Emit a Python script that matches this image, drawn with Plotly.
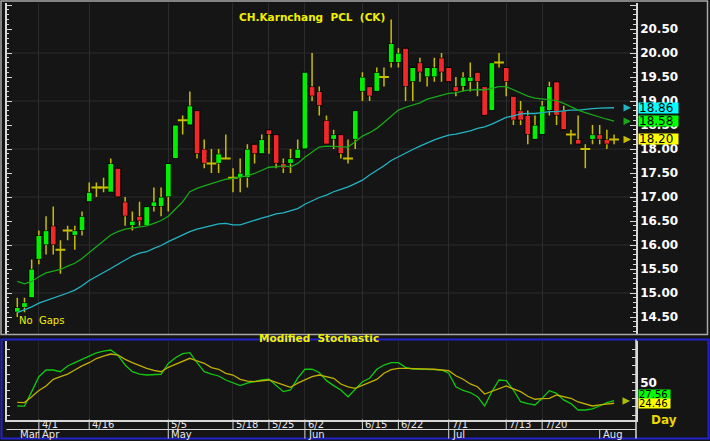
import plotly.graph_objects as go

# candle data, one entry per trading day
opens = [14.6, 14.7, 14.9, 15.7, 16.0, 16.4, 15.9, 16.3, 16.2, 16.3,
         16.9, 17.2, 17.2, 17.1, 17.6, 16.9, 16.4, 16.6, 16.4, 16.8,
         16.8, 17.0, 17.8, 18.6, 18.5, 18.8, 18.0, 17.7, 17.7, 17.8,
         17.4, 17.4, 17.4, 18.1, 17.9, 18.4, 18.3, 17.7, 17.7, 17.8,
         18.0, 19.3, 19.2, 18.6, 18.2, 18.3, 17.8, 18.2, 19.2, 19.3,
         19.2, 19.5, 19.8, 19.8, 20.1, 19.4, 19.8, 19.5, 19.5, 19.9,
         19.7, 19.3, 19.3, 19.4, 19.6, 19.3, 18.8, 19.8, 19.7, 19.1,
         18.8, 18.7, 18.2, 18.3, 18.8, 19.4, 18.8, 18.3, 18.2, 18.0,
         18.2, 18.3, 18.2, 18.2]
highs = [14.9, 14.9, 15.7, 16.3, 16.6, 16.8, 16.1, 16.4, 16.4, 16.7,
         17.3, 17.3, 17.4, 17.8, 17.6, 17.0, 16.7, 16.9, 16.8, 17.2,
         17.2, 17.7, 18.5, 18.7, 19.2, 18.8, 18.2, 18.0, 18.0, 18.3,
         17.6, 17.8, 18.1, 18.1, 18.3, 18.4, 18.3, 17.8, 18.0, 18.2,
         19.6, 20.0, 19.3, 18.7, 18.4, 18.3, 18.2, 18.8, 19.6, 19.3,
         19.7, 19.7, 20.7, 20.1, 20.1, 19.7, 19.9, 19.7, 19.9, 20.0,
         19.7, 19.5, 19.6, 19.8, 19.6, 19.3, 19.8, 20.0, 19.7, 19.1,
         19.0, 18.8, 18.7, 19.0, 19.4, 19.4, 18.9, 18.4, 18.7, 18.1,
         18.5, 18.5, 18.4, 18.3]
lows = [14.5, 14.6, 14.9, 15.6, 15.8, 15.8, 15.4, 16.1, 15.9, 16.2,
        16.9, 17.0, 17.1, 17.1, 17.0, 16.4, 16.3, 16.4, 16.4, 16.7,
        16.6, 16.7, 17.8, 18.3, 18.5, 17.8, 17.6, 17.5, 17.5, 17.8,
        17.1, 17.1, 17.2, 17.7, 17.9, 17.9, 17.6, 17.5, 17.5, 17.8,
        18.0, 19.0, 18.7, 18.1, 18.0, 17.8, 17.7, 18.0, 19.0, 19.0,
        19.2, 19.3, 19.7, 19.7, 19.0, 19.0, 19.4, 19.3, 19.4, 19.4,
        19.4, 19.1, 19.2, 19.2, 19.1, 18.7, 18.8, 19.7, 19.1, 18.5,
        18.5, 18.1, 18.2, 18.3, 18.7, 18.5, 18.4, 18.1, 18.1, 17.6,
        18.1, 18.1, 18.0, 18.1]
closes = [14.7, 14.8, 15.5, 16.2, 16.3, 16.0, 15.9, 16.3, 16.3, 16.6,
          17.1, 17.2, 17.2, 17.7, 17.0, 16.6, 16.5, 16.5, 16.8, 16.9,
          17.0, 17.7, 18.5, 18.6, 18.9, 17.9, 17.7, 17.7, 17.9, 17.8,
          17.4, 17.5, 18.0, 17.9, 18.2, 18.3, 17.7, 17.6, 17.8, 18.0,
          19.6, 19.1, 18.9, 18.1, 18.3, 17.9, 17.8, 18.8, 19.5, 19.1,
          19.6, 19.5, 20.2, 20.0, 19.3, 19.7, 19.6, 19.7, 19.7, 19.6,
          19.4, 19.2, 19.5, 19.5, 19.4, 18.7, 19.8, 19.8, 19.4, 18.6,
          18.6, 18.3, 18.5, 18.9, 19.3, 18.7, 18.4, 18.3, 18.1, 18.0,
          18.3, 18.2, 18.1, 18.2]

# moving averages
ma_fast = [15.24, 15.19, 15.24, 15.34, 15.42, 15.46, 15.49, 15.56, 15.62, 15.72,
           15.84, 15.96, 16.07, 16.21, 16.28, 16.33, 16.35, 16.37, 16.40, 16.45,
           16.51, 16.60, 16.75, 16.90, 17.11, 17.18, 17.23, 17.28, 17.33, 17.37,
           17.39, 17.41, 17.44, 17.49, 17.55, 17.62, 17.63, 17.65, 17.63, 17.70,
           17.83, 17.94, 18.04, 18.06, 18.05, 18.04, 18.04, 18.15, 18.27, 18.34,
           18.43, 18.55, 18.69, 18.81, 18.87, 18.92, 18.96, 19.04, 19.08, 19.12,
           19.16, 19.17, 19.21, 19.23, 19.24, 19.23, 19.26, 19.30, 19.30, 19.23,
           19.17, 19.10, 19.06, 19.04, 19.02, 19.01, 18.95, 18.88, 18.81, 18.76,
           18.71, 18.66, 18.62, 18.58]
ma_slow = [14.59, 14.65, 14.71, 14.79, 14.84, 14.89, 14.94, 15.00, 15.06, 15.15,
           15.26, 15.34, 15.42, 15.51, 15.60, 15.69, 15.77, 15.83, 15.86, 15.93,
           15.99, 16.07, 16.14, 16.21, 16.28, 16.33, 16.37, 16.40, 16.44, 16.45,
           16.42, 16.42, 16.47, 16.52, 16.56, 16.60, 16.65, 16.67, 16.71, 16.76,
           16.85, 16.92, 16.99, 17.04, 17.11, 17.16, 17.21, 17.28, 17.35, 17.46,
           17.55, 17.65, 17.76, 17.84, 17.91, 17.99, 18.06, 18.13, 18.19, 18.24,
           18.29, 18.31, 18.34, 18.38, 18.43, 18.46, 18.52, 18.59, 18.66, 18.69,
           18.73, 18.74, 18.74, 18.76, 18.78, 18.78, 18.80, 18.81, 18.81, 18.83,
           18.84, 18.85, 18.85, 18.86]

# modified stochastic
stoch_k = [21.1, 21.0, 38.6, 56.8, 65.0, 65.0, 62.9, 69.9, 73.9, 78.0,
           82.0, 86.0, 88.0, 89.4, 83.0, 71.0, 63.0, 60.0, 58.9, 59.8,
           59.8, 73.0, 80.0, 85.0, 86.1, 74.0, 63.0, 60.0, 57.7, 52.8,
           49.0, 45.9, 49.0, 51.0, 52.8, 53.7, 46.7, 38.6, 40.6, 55.0,
           65.9, 65.9, 62.0, 52.0, 46.0, 40.6, 32.4, 42.0, 50.7, 54.9,
           65.9, 71.1, 73.9, 73.9, 68.3, 66.0, 66.0, 65.9, 65.5, 65.0,
           61.0, 44.6, 40.0, 37.5, 32.4, 21.1, 38.6, 52.8, 52.0, 40.6,
           26.3, 24.0, 22.3, 30.5, 39.8, 36.6, 28.5, 24.0, 16.2, 16.2,
           17.5, 21.1, 25.1, 27.56]
stoch_d = [25.6, 25.2, 32.4, 40.0, 45.5, 53.7, 57.0, 60.0, 65.0, 70.0,
           73.9, 79.0, 82.0, 84.5, 83.3, 78.0, 73.9, 70.0, 67.1, 64.5,
           62.9, 68.3, 72.0, 75.1, 79.3, 76.0, 73.2, 68.0, 65.9, 61.0,
           58.9, 53.7, 51.5, 50.7, 52.0, 52.8, 50.0, 46.7, 43.9, 49.0,
           52.8, 57.0, 58.9, 56.5, 54.9, 47.9, 44.5, 42.7, 46.7, 50.0,
           53.5, 61.0, 65.5, 67.1, 67.1, 67.0, 66.2, 65.9, 65.9, 65.0,
           64.1, 58.0, 53.7, 48.0, 44.6, 35.7, 39.0, 41.5, 45.5, 42.0,
           38.6, 33.0, 29.3, 30.0, 30.5, 34.5, 32.5, 30.5, 26.0, 23.5,
           21.1, 22.5, 23.5, 24.46]

# date axis (positions are candle numbers)
day_ticks = [3, 10, 21, 30, 35, 40, 48, 53, 60, 68, 73]
day_labels = ["4/1", "4/16", "5/5", "5/18", "5/25", "6/2", "6/15", "6/22", "7/1", "7/13", "7/20"]
month_ticks = [0, 3, 21, 40, 60, 81]
month_labels = ["Mar", "Apr", "May", "Jun", "Jul", "Aug"]

grid_levels = [15, 16, 17, 18, 19, 20]
stoch_levels = [10, 20, 30, 40, 50, 60, 70, 80, 90, 100]

W, H = 710, 441
BG = "#151515"
AXC = "#d8d8d8"
FONT = "DejaVu Sans"


def px(x):
    return x / W


def py(y):
    return 1 - y / H


idx = list(range(len(closes)))
x_range = [-1.5, 86.05]
p_range = [14.146, 21.042]
s_range = [4.6, 100.4]

up_col, dn_col, wick_col = "#00f000", "#f02828", "#c8be00"

fig = go.Figure()

# candle bodies, wicks split so they sit behind the bodies
body_x, body_h, body_b, body_c = [], [], [], []
doji_x, doji_y = [], []
wx, wy = [], []
for i, o, h, l, c in zip(idx, opens, highs, lows, closes):
    if o == c:
        doji_x.append(i)
        doji_y.append(c)
        wx += [i, i, None]
        wy += [l, h, None]
        continue
    top, bot = max(o, c), min(o, c)
    body_x.append(i)
    body_b.append(bot)
    body_h.append(top - bot)
    body_c.append(up_col if c > o else dn_col)
    if h > top:
        wx += [i, i, None]
        wy += [top, h, None]
    if l < bot:
        wx += [i, i, None]
        wy += [l, bot, None]

fig.add_trace(go.Bar(x=body_x, y=body_h, base=body_b, width=0.8,
                     marker=dict(color=body_c, line=dict(color="#000000", width=1)),
                     xaxis="x", yaxis="y"))
fig.add_trace(go.Scatter(x=wx, y=wy, mode="lines", line=dict(color=wick_col, width=1.5),
                         xaxis="x", yaxis="y"))
fig.add_trace(go.Scatter(x=doji_x, y=doji_y, mode="markers",
                         marker=dict(symbol="line-ew", size=7, line=dict(color=wick_col, width=2)),
                         xaxis="x", yaxis="y"))

# moving averages
fig.add_trace(go.Scatter(x=idx, y=ma_slow, mode="lines", line=dict(color="#22b4c4", width=1.3),
                         xaxis="x", yaxis="y3"))
fig.add_trace(go.Scatter(x=idx, y=ma_fast, mode="lines", line=dict(color="#18a818", width=1.3),
                         xaxis="x", yaxis="y3"))

# stochastic
fig.add_trace(go.Scatter(x=idx, y=stoch_k, mode="lines", line=dict(color="#10c810", width=1.3),
                         xaxis="x2", yaxis="y2"))
fig.add_trace(go.Scatter(x=idx, y=stoch_d, mode="lines", line=dict(color="#c0b000", width=1.3),
                         xaxis="x2", yaxis="y4"))

dom_x = [px(6.5), px(636)]
dom_main = [py(334), py(3)]
dom_low = [py(419.5), py(341)]

tick_font = dict(family=FONT, size=12, color="#ffffff", weight="bold")

fig.update_layout(
    width=W, height=H,
    margin=dict(l=0, r=0, t=0, b=0),
    paper_bgcolor=BG, plot_bgcolor=BG,
    showlegend=False, hovermode=False, barmode="overlay",
    xaxis=dict(domain=dom_x, range=x_range, anchor="y", tickmode="array", tickvals=day_ticks,
               showticklabels=False, ticks="", showgrid=True, gridcolor="#2c2c2c",
               zeroline=False, showline=False),
    yaxis=dict(domain=dom_main, range=p_range, anchor="x", side="left",
               tickmode="linear", tick0=14.5, dtick=0.5, ticks="inside", ticklen=6,
               tickcolor=AXC, showticklabels=False, showgrid=False, zeroline=False,
               showline=True, linecolor=AXC, linewidth=1.5,
               minor=dict(dtick=0.1, ticks="inside", ticklen=3, tickcolor=AXC)),
    yaxis3=dict(range=p_range, overlaying="y", anchor="x", side="right",
                tickmode="linear", tick0=14.5, dtick=0.5, tickformat=".2f",
                ticks="inside", ticklen=6, tickcolor=AXC, tickfont=tick_font,
                showgrid=False, zeroline=False, showline=True, linecolor=AXC, linewidth=1.5,
                minor=dict(dtick=0.1, ticks="inside", ticklen=3, tickcolor=AXC)),
    xaxis2=dict(domain=dom_x, range=x_range, anchor="y2", tickmode="array", tickvals=day_ticks,
                showticklabels=False, ticks="", showgrid=True, gridcolor="#262626",
                zeroline=False, showline=True, linecolor=AXC, linewidth=1.5),
    yaxis2=dict(domain=dom_low, range=s_range, anchor="x2", side="left",
                tickmode="array", tickvals=stoch_levels, ticks="inside", ticklen=4,
                tickcolor=AXC, showticklabels=False, showgrid=False, zeroline=False,
                showline=True, linecolor=AXC, linewidth=1.5),
    yaxis4=dict(range=s_range, overlaying="y2", anchor="x2", side="right",
                tickmode="array", tickvals=stoch_levels,
                ticktext=["50" if v == 50 else "" for v in stoch_levels],
                ticks="inside", ticklen=4, tickcolor=AXC, tickfont=tick_font,
                showgrid=False, zeroline=False, showline=True, linecolor=AXC, linewidth=1.5),
)

shapes = []
for lv in grid_levels:
    shapes.append(dict(type="line", xref="x domain", yref="y", x0=0, x1=1, y0=lv, y1=lv,
                       line=dict(color="#2c2c2c", width=1), layer="below"))
# panel frames
shapes.append(dict(type="rect", xref="paper", yref="paper", x0=px(1), x1=px(707.5),
                   y0=py(334.5), y1=py(1), line=dict(color="#a8a8a8", width=1.5)))
shapes.append(dict(type="rect", xref="paper", yref="paper", x0=px(1.5), x1=px(708.5),
                   y0=py(438.5), y1=py(339.5), line=dict(color="#2222cc", width=2)))
shapes.append(dict(type="line", xref="paper", yref="paper", x0=px(636), x1=px(636),
                   y0=py(438.5), y1=py(339.5), line=dict(color=AXC, width=1.5)))
shapes.append(dict(type="line", xref="paper", yref="paper", x0=px(6.5), x1=px(636),
                   y0=py(429.5), y1=py(429.5), line=dict(color=AXC, width=1)))
for t in day_ticks:
    shapes.append(dict(type="line", xref="x2", yref="paper", x0=t, x1=t,
                       y0=py(429.5), y1=py(419.5), line=dict(color=AXC, width=1)))
for t in month_ticks[1:]:
    shapes.append(dict(type="line", xref="x2", yref="paper", x0=t, x1=t,
                       y0=py(438.5), y1=py(429.5), line=dict(color=AXC, width=1)))
fig.update_layout(shapes=shapes)

ann = []
date_font = dict(family=FONT, size=10, color="#e8e8e8")
for t, lab in zip(day_ticks, day_labels):
    ann.append(dict(x=t, y=py(424.5), xref="x2", yref="paper", text=lab, showarrow=False,
                    xanchor="left", yanchor="middle", xshift=1, font=date_font))
for t, lab in zip(month_ticks, month_labels):
    ann.append(dict(x=t, y=py(434), xref="x2", yref="paper", text=lab, showarrow=False,
                    xanchor="left", yanchor="middle", xshift=1, font=date_font))

yellow = "#f0f000"
ann.append(dict(x=px(312), y=py(9), xref="paper", yref="paper",
                text="CH.Karnchang\u00a0\u00a0PCL\u00a0\u00a0(CK)", showarrow=False,
                font=dict(family=FONT, size=10.5, color=yellow, weight="bold")))
ann.append(dict(x=px(17), y=py(328), xref="paper", yref="paper", text="No\u00a0\u00a0Gaps",
                showarrow=False, xanchor="left",
                font=dict(family=FONT, size=10, color=yellow)))
ann.append(dict(x=px(319), y=py(346), xref="paper", yref="paper",
                text="Modified\u00a0\u00a0Stochastic", showarrow=False,
                font=dict(family=FONT, size=10.5, color=yellow, weight="bold")))
ann.append(dict(x=px(679), y=py(429), xref="paper", yref="paper", text="Day", showarrow=False,
                font=dict(family=FONT, size=12, color="#e8d800", weight="bold")))

# last value tags on the price panel
box_font = dict(family=FONT, size=12, color="#000000")
tags = [(ma_slow[-1], "#00ffff", "#22b4c4"),
        (ma_fast[-1], "#00ff00", "#18a818"),
        (closes[-1], "#ffff00", wick_col)]
for val, bg, arr in tags:
    ann.append(dict(x=px(638), y=val, xref="paper", yref="y", text=f"{val:.2f}",
                    showarrow=False, xanchor="left", yanchor="middle", align="left",
                    bgcolor=bg, width=39, height=10, borderpad=0, font=box_font))
    ann.append(dict(x=px(631), y=val, xref="paper", yref="y", text="", showarrow=True,
                    ax=-8, ay=0, arrowhead=2, arrowsize=1, arrowwidth=1.5, arrowcolor=arr))

small_box = dict(family=FONT, size=10, color="#000000")
ann.append(dict(x=px(638), y=py(394), xref="paper", yref="paper", text=f"{stoch_k[-1]:.2f}",
                showarrow=False, xanchor="left", yanchor="middle", align="left",
                bgcolor="#00ff00", width=31, height=9, borderpad=0, font=small_box))
ann.append(dict(x=px(638), y=py(403.7), xref="paper", yref="paper", text=f"{stoch_d[-1]:.2f}",
                showarrow=False, xanchor="left", yanchor="middle", align="left",
                bgcolor="#ffff00", width=31, height=9, borderpad=0, font=small_box))
ann.append(dict(x=px(630), y=py(401), xref="paper", yref="paper", text="", showarrow=True,
                ax=-6, ay=0, arrowhead=2, arrowsize=1, arrowwidth=1.5, arrowcolor="#a8c000"))
fig.update_layout(annotations=ann)

# the page body has a default margin; drop it so the figure fills the window
fig.write_html("out.html", config={"displayModeBar": False},
               post_script="document.body.style.margin='0';")
